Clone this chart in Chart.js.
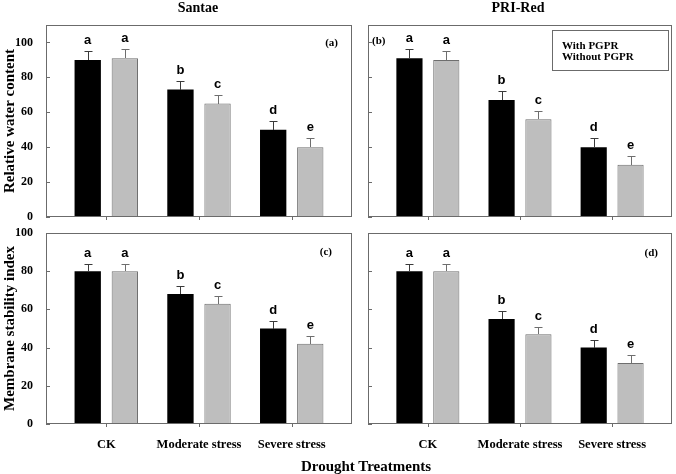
<!DOCTYPE html>
<html>
<head>
<meta charset="utf-8">
<script src="https://cdn.jsdelivr.net/npm/chart.js@4.4.1/dist/chart.umd.min.js"></script>
<style>
  body { margin: 0; background: #fff; }
  #wrap { position: relative; width: 676px; height: 474px; overflow: hidden;
          font-family: "Liberation Serif", serif; font-weight: bold; color: #000; }
  canvas { position: absolute; left: 0; top: 0; }
  .txt { position: absolute; white-space: nowrap; transform: translate(-50%, -50%); }
  #legendBox { position: absolute; left: 552px; top: 30px; width: 106px; height: 39px;
               border: 1px solid #6b6b6b; font-size: 11px; line-height: 10.5px; padding-left: 9px;
               box-sizing: content-box; }
  #legendBox div:first-child { margin-top: 9px; }
</style>
</head>
<body>
<div id="wrap">
  <canvas id="panelA" width="676" height="474"></canvas>
  <canvas id="panelB" width="676" height="474"></canvas>
  <canvas id="panelC" width="676" height="474"></canvas>
  <canvas id="panelD" width="676" height="474"></canvas>
  <div class="txt" style="left:198px; top:8px; font-size:14px;">Santae</div>
  <div class="txt" style="left:518px; top:8px; font-size:14px;">PRI-Red</div>
  <div class="txt" style="left:366px; top:466px; font-size:15px;">Drought Treatments</div>
  <div id="legendBox"><div>With PGPR</div><div>Without PGPR</div></div>
</div>
<script>
// drought treatments on the x axis
const categories = ["CK", "Moderate stress", "Severe stress"];

// relative water content
const santaeRwcWith = [90, 73, 50];
const santaeRwcWithout = [91, 65, 40];
const priRwcWith = [91, 67, 40];
const priRwcWithout = [90, 56, 30];
const rwcErr = [5, 5, 5];

// membrane stability index
const santaeMsiWith = [80, 68, 50];
const santaeMsiWithout = [80, 63, 42];
const priMsiWith = [80, 55, 40];
const priMsiWithout = [80, 47, 32];
const msiErr = [4, 4, 4];

// significance letters
const lettersWith = ["a", "b", "d"];
const lettersWithout = ["a", "c", "e"];

const yTicks = [0, 20, 40, 60, 80, 100];

Chart.defaults.font.family = "'Liberation Serif', serif";
Chart.defaults.font.weight = "bold";
Chart.defaults.color = "#000";

function toPoints(values) {
  return values.map((v, i) => ({ x: i + 1, y: v }));
}

const panelDecor = {
  id: "panelDecor",
  afterDatasetsDraw(chart, args, opts) {
    const { ctx, chartArea: a, scales } = chart;
    const yScale = scales.y;
    ctx.save();

    // error bars and letters
    chart.data.datasets.forEach((ds, i) => {
      const meta = chart.getDatasetMeta(i);
      meta.data.forEach((bar, j) => {
        const cx = Math.round(bar.x) + 0.5;
        const top = Math.round(yScale.getPixelForValue(ds.data[j].y + ds.errors[j])) + 0.5;
        ctx.strokeStyle = ds.errorColor;
        ctx.lineWidth = 1;
        ctx.beginPath();
        ctx.moveTo(cx, Math.round(bar.y));
        ctx.lineTo(cx, top);
        ctx.moveTo(cx - 4, top);
        ctx.lineTo(cx + 4, top);
        ctx.stroke();

        ctx.fillStyle = "#000";
        ctx.font = "bold 13px 'Liberation Sans', Arial, sans-serif";
        ctx.textAlign = "center";
        ctx.textBaseline = "alphabetic";
        ctx.fillText(ds.letters[j], bar.x, top - 8);
      });
    });

    // frame
    ctx.strokeStyle = "#6b6b6b";
    ctx.lineWidth = 1;
    ctx.strokeRect(Math.round(a.left) + 0.5, Math.round(a.top) + 0.5,
      Math.round(a.width) - 1, Math.round(a.height) - 1);

    // tick marks: y inward, x outward
    ctx.beginPath();
    yTicks.forEach((v) => {
      const py = Math.round(yScale.getPixelForValue(v)) + 0.5;
      ctx.moveTo(a.left, py);
      ctx.lineTo(a.left + 4, py);
    });
    [1, 2, 3].forEach((v) => {
      const px = Math.round(scales.x.getPixelForValue(v)) + 0.5;
      ctx.moveTo(px, a.bottom);
      ctx.lineTo(px, a.bottom + 3);
    });
    ctx.stroke();

    // panel label
    ctx.fillStyle = "#000";
    ctx.font = "bold 11px 'Liberation Serif', serif";
    ctx.textBaseline = "middle";
    if (opts.align === "left") {
      ctx.textAlign = "left";
      ctx.fillText(opts.label, a.left + opts.dx, a.top + opts.dy);
    } else {
      ctx.textAlign = "right";
      ctx.fillText(opts.label, a.right - opts.dx, a.top + opts.dy);
    }
    ctx.restore();
  },
};

function makePanel(id, cfg) {
  return new Chart(document.getElementById(id), {
    type: "bar",
    data: {
      datasets: [
        {
          label: "With PGPR",
          data: toPoints(cfg.withVals),
          errors: cfg.err,
          letters: lettersWith,
          errorColor: "#3a3a3a",
          backgroundColor: "#000",
          borderWidth: 0,
          categoryPercentage: 0.8,
          barPercentage: 0.71,
        },
        {
          label: "Without PGPR",
          data: toPoints(cfg.withoutVals),
          errors: cfg.err,
          letters: lettersWithout,
          errorColor: "#6e6e6e",
          backgroundColor: "#bebebe",
          borderColor: "#6e6e6e",
          borderWidth: 1,
          categoryPercentage: 0.8,
          barPercentage: 0.71,
        },
      ],
    },
    options: {
      responsive: false,
      animation: false,
      events: [],
      layout: { padding: cfg.padding },
      plugins: {
        legend: { display: false },
        tooltip: { enabled: false },
        panelDecor: cfg.tag,
      },
      scales: {
        x: {
          type: "linear",
          min: 0.35,
          max: 3.65,
          offset: false,
          grid: { display: false },
          border: { display: false },
          afterBuildTicks: (s) => {
            s.ticks = [1, 2, 3].map((v) => ({ value: v }));
          },
          afterFit: (s) => {
            s.height = cfg.xHeight;
          },
          ticks: {
            display: cfg.showX,
            autoSkip: false,
            maxRotation: 0,
            padding: 5,
            font: { size: 12.5 },
            callback: (v) => categories[v - 1],
          },
        },
        y: {
          min: 0,
          max: cfg.yMax,
          grid: { display: false },
          border: { display: false },
          afterBuildTicks: (s) => {
            s.ticks = yTicks.map((v) => ({ value: v }));
          },
          afterFit: (s) => {
            s.width = cfg.yWidth;
          },
          ticks: { display: cfg.showY, padding: 5, font: { size: 12 } },
          title: {
            display: !!cfg.yTitle,
            text: cfg.yTitle || "",
            font: { size: 15 },
            padding: { top: 1, bottom: 0 },
          },
        },
      },
    },
    plugins: [panelDecor],
  });
}

makePanel("panelA", {
  withVals: santaeRwcWith, withoutVals: santaeRwcWithout, err: rwcErr,
  yMax: 110, showX: false, showY: true, yWidth: 46, xHeight: 0, yTitle: "Relative water content",
  padding: { left: 0, right: 324, top: 25, bottom: 257 },
  tag: { label: "(a)", align: "right", dx: 14, dy: 18 },
});
makePanel("panelB", {
  withVals: priRwcWith, withoutVals: priRwcWithout, err: rwcErr,
  yMax: 110, showX: false, showY: false, yWidth: 0, xHeight: 0,
  padding: { left: 368, right: 4, top: 25, bottom: 257 },
  tag: { label: "(b)", align: "left", dx: 4, dy: 16 },
});
makePanel("panelC", {
  withVals: santaeMsiWith, withoutVals: santaeMsiWithout, err: msiErr,
  yMax: 100, showX: true, showY: true, yWidth: 46, xHeight: 30, yTitle: "Membrane stability index",
  padding: { left: 0, right: 324, top: 233, bottom: 20 },
  tag: { label: "(c)", align: "right", dx: 20, dy: 19 },
});
makePanel("panelD", {
  withVals: priMsiWith, withoutVals: priMsiWithout, err: msiErr,
  yMax: 100, showX: true, showY: false, yWidth: 0, xHeight: 30,
  padding: { left: 368, right: 4, top: 233, bottom: 20 },
  tag: { label: "(d)", align: "right", dx: 14, dy: 20 },
});
</script>
</body>
</html>
